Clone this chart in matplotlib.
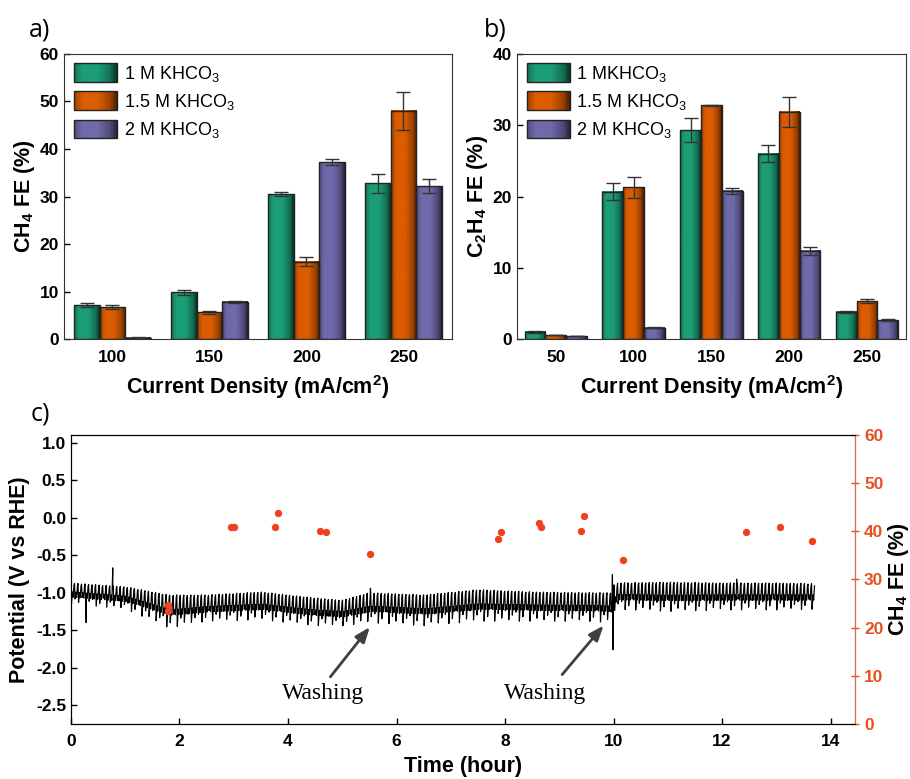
import matplotlib
matplotlib.use("Agg")
import matplotlib.pyplot as plt
import numpy as np
from matplotlib.colors import LinearSegmentedColormap, to_rgb
from matplotlib.legend_handler import HandlerBase
from matplotlib.patches import Rectangle, Patch

plt.rcParams['font.family'] = ['Liberation Sans', 'DejaVu Sans']
plt.rcParams['mathtext.fontset'] = 'custom'
plt.rcParams['mathtext.rm'] = 'Liberation Sans'
plt.rcParams['mathtext.bf'] = 'Liberation Sans:bold'

# panel a: CH4 FE
a_labels = ["100", "150", "200", "250"]
a_1m = [7.1, 9.8, 30.5, 32.8]
a_1m_err = [0.4, 0.5, 0.4, 2.0]
a_15m = [6.7, 5.6, 16.3, 48.1]
a_15m_err = [0.4, 0.3, 0.9, 4.0]
a_2m = [0.3, 7.8, 37.2, 32.2]
a_2m_err = [0.05, 0.3, 0.6, 1.5]

# panel b: C2H4 FE
b_labels = ["50", "100", "150", "200", "250"]
b_1m = [1.0, 20.7, 29.3, 26.0, 3.8]
b_1m_err = [0.1, 1.2, 1.7, 1.2, 0.1]
b_15m = [0.56, 21.3, 32.8, 31.9, 5.3]
b_15m_err = [0.05, 1.5, 0.1, 2.1, 0.25]
b_2m = [0.42, 1.6, 20.8, 12.35, 2.66]
b_2m_err = [0.05, 0.1, 0.4, 0.6, 0.2]

# panel c: potential envelope (hour, upper V, lower V)
env_t = [0, 1.0, 1.8, 2.5, 3.5, 4.5, 5.0, 5.5, 6.5, 7.5, 8.5, 9.5, 9.97, 10.02, 11, 12, 13, 13.66]
env_hi = [-0.87, -0.92, -1.03, -1.03, -0.99, -1.07, -1.10, -1.00, -1.03, -0.96, -0.99, -1.00, -1.00,
          -0.87, -0.86, -0.87, -0.87, -0.88]
env_lo = [-1.15, -1.22, -1.47, -1.38, -1.36, -1.44, -1.44, -1.40, -1.44, -1.38, -1.38, -1.38, -1.40,
          -1.22, -1.25, -1.23, -1.23, -1.22]
spike_t = [0.28, 0.77, 5.52, 9.98, 9.99, 12.27]
spike_v = [-1.40, -0.67, -0.94, -0.76, -1.76, -0.82]

# panel c: CH4 FE points
fe_t = [1.78, 1.78, 2.95, 3.0, 3.76, 3.82, 4.59, 4.70, 5.51, 7.87, 7.93, 8.62, 8.67,
        9.40, 9.45, 10.17, 12.45, 13.06, 13.66]
fe_v = [24.8, 23.4, 40.8, 40.8, 40.9, 43.9, 40.1, 39.8, 35.2, 38.5, 39.9, 41.8, 40.8,
        40.1, 43.2, 34.1, 39.9, 40.9, 37.9]

series_names_a = ["1 M KHCO$_3$", "1.5 M KHCO$_3$", "2 M KHCO$_3$"]
series_names_b = ["1 MKHCO$_3$", "1.5 M KHCO$_3$", "2 M KHCO$_3$"]
base_colors = ["#1b9e76", "#dc5c00", "#6f6aaa"]

TICK_FS = 12.5
LABEL_FS = 15.5


def gradient_cmap(color):
    r, g, b = to_rgb(color)
    pos = [0.0, 0.2, 0.55, 0.85, 1.0]
    fac = [0.72, 1.0, 1.0, 0.7, 0.3]
    cols = [(p, (r * f, g * f, b * f)) for p, f in zip(pos, fac)]
    return LinearSegmentedColormap.from_list("g", cols)


class GradientHandler(HandlerBase):
    def __init__(self, cmap):
        super().__init__()
        self.cmap = cmap

    def create_artists(self, legend, orig_handle, xdescent, ydescent, width, height, fontsize, trans):
        arts = []
        n = 30
        h = height * 1.2
        y0 = -ydescent - (h - height) / 2
        for i in range(n):
            arts.append(Rectangle((-xdescent + width * i / n, y0), width / n * 1.05, h,
                                  facecolor=self.cmap((i + 0.5) / n), edgecolor='none', transform=trans))
        arts.append(Rectangle((-xdescent, y0), width, h, facecolor='none',
                              edgecolor='#222222', lw=1, transform=trans))
        return arts


def grouped_bars(ax, labels, series, errs, names, ymax, ylabel):
    n = len(labels)
    x = np.arange(1, n + 1)
    w = 0.8 / 3
    grad = np.linspace(0, 1, 64).reshape(1, -1)
    handles = []
    hmap = {}
    for i, (vals, err, col) in enumerate(zip(series, errs, base_colors)):
        cm = gradient_cmap(col)
        xs = x + (i - 1) * w
        bars = ax.bar(xs, vals, w, color=col, edgecolor='none', zorder=2)
        for rect in bars:
            bx, by = rect.get_x(), rect.get_y()
            ax.imshow(grad, extent=[bx, bx + rect.get_width(), by, by + rect.get_height()],
                      aspect='auto', cmap=cm, zorder=2.5, interpolation='bilinear')
        ax.bar(xs, vals, w, facecolor='none', edgecolor='#222222', linewidth=1, zorder=3)
        ax.errorbar(xs, vals, yerr=err, fmt='none', ecolor='#333333', elinewidth=1,
                    capsize=5, capthick=1, zorder=4)
        hd = Patch(facecolor=col, label=names[i])
        handles.append(hd)
        hmap[hd] = GradientHandler(cm)
    ax.set_xlim(0.5, n + 0.5)
    ax.set_ylim(0, ymax)
    ax.set_xticks(x)
    ax.set_xticklabels(labels)
    ax.tick_params(axis='both', direction='in', labelsize=TICK_FS, width=1, length=4)
    ax.tick_params(axis='x', length=0, pad=8)
    for lab in ax.get_xticklabels() + ax.get_yticklabels():
        lab.set_fontweight('bold')
    ax.set_xlabel("Current Density (mA/cm$^\\mathbf{2}$)", fontsize=LABEL_FS, fontweight='bold', labelpad=6)
    ax.set_ylabel(ylabel, fontsize=LABEL_FS, fontweight='bold', labelpad=2)
    ax.legend(handles=handles, handler_map=hmap, loc='upper left', frameon=False,
              fontsize=13, handlelength=2.4, handleheight=0.95, labelspacing=0.45,
              handletextpad=0.35, borderaxespad=0.3, borderpad=0.25)
    for sp in ax.spines.values():
        sp.set_color('#333333')


fig = plt.figure(figsize=(9.1, 7.79), dpi=100)
ax_a = fig.add_axes([0.0703, 0.5648, 0.4264, 0.3659])
ax_b = fig.add_axes([0.568, 0.5648, 0.4275, 0.3659])
ax_c = fig.add_axes([0.078, 0.0706, 0.8615, 0.371])

grouped_bars(ax_a, a_labels, [a_1m, a_15m, a_2m], [a_1m_err, a_15m_err, a_2m_err],
             series_names_a, 60, "CH$_\\mathbf{4}$ FE (%)")
ax_a.set_yticks(np.arange(0, 61, 10))
grouped_bars(ax_b, b_labels, [b_1m, b_15m, b_2m], [b_1m_err, b_15m_err, b_2m_err],
             series_names_b, 40, "C$_\\mathbf{2}$H$_\\mathbf{4}$ FE (%)")
ax_b.set_yticks(np.arange(0, 41, 10))

fig.text(0.032, 0.953, "a)", fontsize=18, family='Open Sans')
fig.text(0.532, 0.953, "b)", fontsize=18, family='Open Sans')
fig.text(0.034, 0.460, "c)", fontsize=18, family='Open Sans')

# potential trace: sawtooth cycles between the read envelopes,
# tooth depth cycles through a fixed pattern so the band looks less uniform
period = 0.065
depth = [1.0, 0.75, 0.9, 0.65, 0.95, 0.8, 0.7, 1.0, 0.85, 0.6]
t_cyc = np.arange(0, env_t[-1], period)
tt = []
vv = []
for k, tk in enumerate(t_cyc):
    hi = np.interp(tk, env_t, env_hi)
    lo = np.interp(tk, env_t, env_lo)
    d = depth[k % len(depth)]
    low = hi + (lo - hi) * d
    mid = 0.5 * (hi + lo)
    tt += [tk, tk + 0.15 * period, tk + 0.4 * period, tk + 0.6 * period, tk + 0.85 * period]
    vv += [hi - 0.02 * (1 - d), low, mid + 0.02, mid - 0.05, hi - 0.03]
tt = np.array(tt)
vv = np.array(vv)
for st, sv in zip(spike_t, spike_v):
    i = np.searchsorted(tt, st)
    tt = np.insert(tt, i, st)
    vv = np.insert(vv, i, sv)
ax_c.plot(tt, vv, color='black', lw=0.85, zorder=2)

ax_c.set_xlim(0, 14.45)
ax_c.set_ylim(-2.75, 1.1)
ax_c.set_xticks(np.arange(0, 15, 2))
ax_c.set_yticks(np.arange(-2.5, 1.01, 0.5))
ax_c.set_yticklabels([f"{v:.1f}" for v in np.arange(-2.5, 1.01, 0.5)])
ax_c.tick_params(axis='both', direction='in', labelsize=TICK_FS, width=1, length=4)
ax_c.tick_params(axis='x', pad=7)
for lab in ax_c.get_xticklabels() + ax_c.get_yticklabels():
    lab.set_fontweight('bold')
ax_c.set_xlabel("Time (hour)", fontsize=LABEL_FS, fontweight='bold', labelpad=5)
ax_c.set_ylabel("Potential (V vs RHE)", fontsize=LABEL_FS, fontweight='bold', labelpad=4)

ax_r = ax_c.twinx()
ax_r.scatter(fe_t, fe_v, s=28, color='#f0401e', zorder=3, linewidths=0)
ax_r.set_ylim(0, 60)
ax_r.set_yticks(np.arange(0, 61, 10))
ax_r.tick_params(axis='y', direction='inout', labelsize=TICK_FS, colors='#e8501e', width=1, length=6)
for lab in ax_r.get_yticklabels():
    lab.set_fontweight('bold')
ax_r.spines['right'].set_color('#e06a44')
ax_r.set_ylabel("CH$_\\mathbf{4}$ FE (%)", fontsize=LABEL_FS, fontweight='bold', color='black', labelpad=2)

arrow_kw = dict(arrowstyle='-|>,head_length=0.9,head_width=0.35', color='#404040', lw=2)
ax_c.annotate("", xy=(5.54, -1.43), xytext=(4.75, -2.15), arrowprops=arrow_kw)
ax_c.annotate("", xy=(9.85, -1.41), xytext=(9.02, -2.12), arrowprops=arrow_kw)
ax_c.text(4.64, -2.35, "Washing", family='Liberation Serif', fontsize=17, ha='center', va='center')
ax_c.text(8.73, -2.34, "Washing", family='Liberation Serif', fontsize=17, ha='center', va='center')

fig.savefig("out.png", dpi=100)
